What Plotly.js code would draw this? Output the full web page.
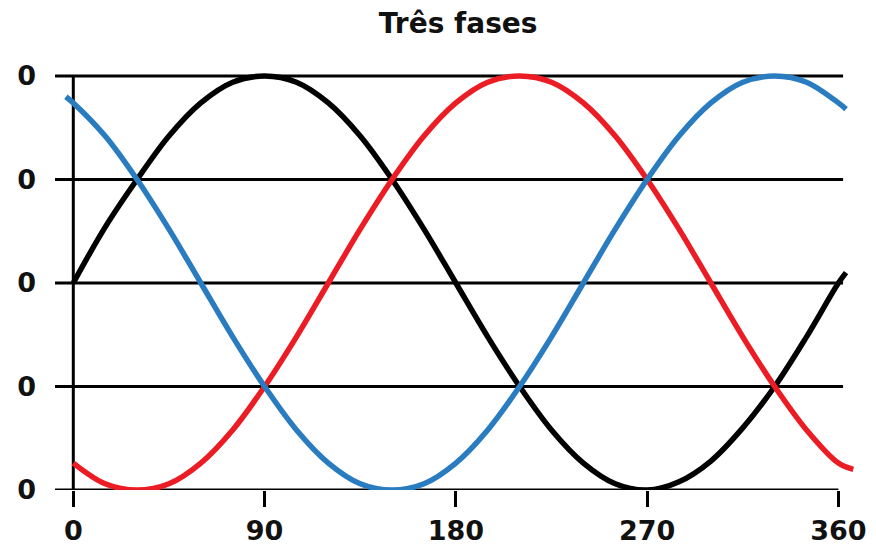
<!DOCTYPE html>
<html>
<head>
<meta charset="utf-8">
<script src="https://cdn.plot.ly/plotly-3.0.1.min.js"></script>
<style>html,body{margin:0;padding:0;background:#fff;}#chart{width:876px;height:552px;}</style>
</head>
<body>
<div id="chart"></div>
<script>
// Values
var titleText = "Três fases";
var xTickVals = [0, 90, 180, 270, 360];
var xTickText = ["0", "90", "180", "270", "360"];
var yTickVals = [-1, -0.5, 0, 0.5, 1];
var yTickText = ["0", "0", "0", "0", "0"];

var blackX = [0, 15, 30, 45, 60, 75, 90, 105, 120, 135, 150, 165, 180, 195, 210, 225, 240, 255, 270, 285, 300, 315, 330, 345, 360, 363.6];
var blackY = [0, 0.27, 0.5, 0.71, 0.87, 0.97, 1.0, 0.97, 0.87, 0.71, 0.5, 0.26, 0, -0.26, -0.5, -0.71, -0.87, -0.97, -1.0, -0.96, -0.86, -0.7, -0.5, -0.26, 0, 0.05];

var redX = [0, 15, 30, 45, 60, 75, 90, 105, 120, 135, 150, 165, 180, 195, 210, 225, 240, 255, 270, 285, 300, 315, 330, 345, 360, 367];
var redY = [-0.87, -0.97, -1.0, -0.97, -0.87, -0.71, -0.5, -0.26, 0, 0.26, 0.5, 0.71, 0.87, 0.97, 1.0, 0.97, 0.87, 0.71, 0.5, 0.26, 0, -0.26, -0.5, -0.71, -0.87, -0.9];

var blueX = [-3.5, 0, 15, 30, 45, 60, 75, 90, 105, 120, 135, 150, 165, 180, 195, 210, 225, 240, 255, 270, 285, 300, 315, 330, 345, 360, 363.6];
var blueY = [0.9, 0.87, 0.71, 0.5, 0.26, 0, -0.26, -0.5, -0.71, -0.87, -0.97, -1.0, -0.97, -0.87, -0.71, -0.5, -0.26, 0, 0.26, 0.5, 0.71, 0.87, 0.97, 1.0, 0.97, 0.87, 0.84];

var gridStart = -8.6, gridEnd = 362.2;

function curve(x, y, color) {
  return {x: x, y: y, type: 'scatter', mode: 'lines',
          line: {color: color, width: 5.5, shape: 'spline', smoothing: 1},
          hoverinfo: 'skip', showlegend: false};
}

var traces = [
  curve(blackX, blackY, '#000000'),
  curve(redX, redY, '#ec1c24'),
  curve(blueX, blueY, '#2a7cc0')
];

var shapes = yTickVals.map(function (v, i) {
  return {type: 'line', xref: 'x', yref: 'y', layer: 'below',
          x0: gridStart, x1: (i === 0 ? xTickVals[xTickVals.length - 1] : gridEnd),
          y0: v, y1: v, line: {color: '#000', width: 3}};
});
shapes.push({type: 'line', xref: 'x', yref: 'y', layer: 'below',
             x0: 0, x1: 0, y0: yTickVals[0], y1: yTickVals[yTickVals.length - 1],
             line: {color: '#000', width: 3}});

var tickFont = {family: 'DejaVu Sans', size: 27, weight: 700, color: '#111'};

var layout = {
  width: 876, height: 552,
  margin: {l: 55, r: 14, t: 68, b: 62},
  paper_bgcolor: '#fff', plot_bgcolor: '#fff',
  title: {text: titleText, x: 0.523, xanchor: 'center', xref: 'container',
          y: 0.958, yref: 'container', yanchor: 'middle',
          font: {family: 'DejaVu Sans', size: 28, weight: 700, color: '#111'}},
  xaxis: {range: [-8.61, 371.1], showgrid: false, zeroline: false, showline: false,
          tickmode: 'array', tickvals: xTickVals, ticktext: xTickText,
          ticks: 'outside', ticklen: 16, tickwidth: 3, tickcolor: '#000',
          ticklabelstandoff: 1, tickfont: tickFont},
  yaxis: {range: [-1, 1.0386], showgrid: false, zeroline: false, showline: false,
          tickmode: 'array', tickvals: yTickVals, ticktext: yTickText,
          ticks: '', ticklabelstandoff: 18, tickfont: tickFont},
  shapes: shapes,
  showlegend: false
};

Plotly.newPlot('chart', traces, layout, {staticPlot: true, displayModeBar: false});
</script>
</body>
</html>
